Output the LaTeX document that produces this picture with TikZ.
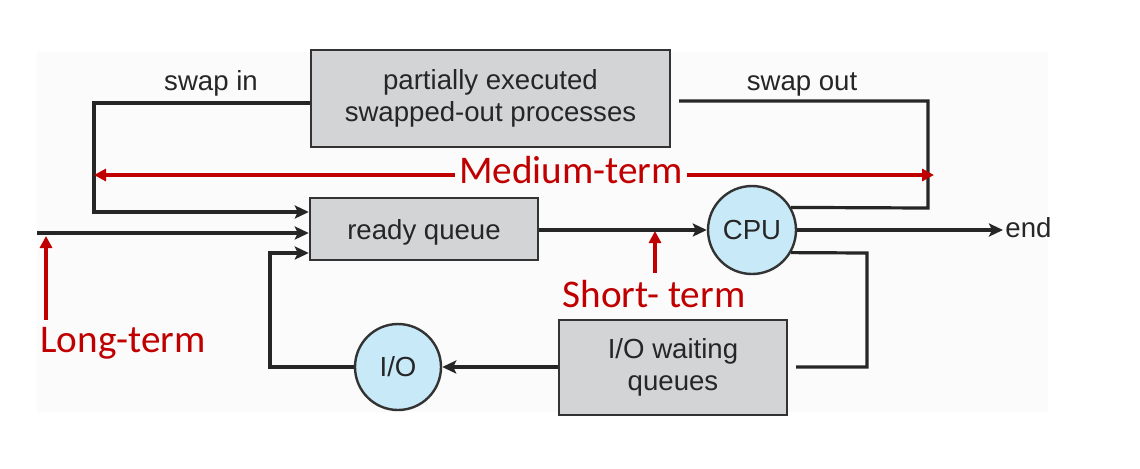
\documentclass[tikz,border=0pt]{standalone}
\usepackage{fontspec}
\setmainfont{Liberation Sans}
\newfontfamily\calibri{Carlito}
\definecolor{boxfill}{RGB}{210, 212, 214}
\definecolor{unitfill}{RGB}{200, 233, 247}
\definecolor{schedred}{RGB}{192, 0, 0}
\definecolor{paper}{RGB}{251, 251, 251}
\usetikzlibrary{arrows.meta}
\tikzset{
    lbl/.style={text=black!85, font=\fontsize{13.8}{16}\selectfont},
    queuebox/.style={lbl, draw=black!80, fill=boxfill, line width=1.2pt,
        align=center},
    unit/.style={lbl, draw=black!80, circle, fill=unitfill, line width=1.2pt,
        inner sep=0pt},
    flow/.style={draw=black!85, line width=1.6pt},
    into/.style={flow, -{Stealth[length=7pt, width=6.5pt, inset=1.5pt]}},
    term/.style={text=schedred, inner xsep=2pt,
        font=\calibri\fontsize{19.6}{23}\selectfont},
    termarrow/.style={draw=schedred, line width=2pt,
        -{Triangle[length=6pt, width=6pt]}},
}

\begin{document}
\begin{tikzpicture}[x=0.5pt, y=-0.5pt]
    \useasboundingbox (0, 0) rectangle (1140, 468);
    \fill[paper] (37, 52) rectangle (1048, 412);
    \node[queuebox, minimum width=179.5pt, minimum height=48.5pt] (swapped)
        at (490.5, 98.5) {partially executed\\swapped-out processes};
    \node[queuebox, minimum width=114pt, minimum height=31pt, text depth=0pt]
        (ready) at (424, 229) {ready queue};
    \node[queuebox, minimum width=114pt, minimum height=47.5pt] (iowait)
        at (673, 367.5) {I/O waiting\\queues};
    \node[unit, minimum size=44pt] (cpu) at (752, 230) {CPU};
    \node[unit, minimum size=43pt] (io) at (398, 367) {I/O};
    \node[lbl, anchor=base] (swapin) at (211, 90) {swap in};
    \node[lbl, anchor=base] (swapout) at (802, 90) {swap out};
    \node[lbl, anchor=base west, inner sep=1pt] (end) at (1003, 237) {end};
    \node[term, anchor=base] (medium) at (571, 183) {Medium-term};
    \node[term, anchor=base] (short) at (654, 307) {Short- term};
    \node[term, anchor=base west, inner xsep=0pt] (long) at (40, 352) {Long-term};

    \coordinate (swl) at (94, 103);
    \coordinate (swb) at (94, 212);
    \coordinate (sor) at (928, 101);
    \coordinate (sob) at (928, 208);
    \coordinate (soe) at (679, 101);
    \coordinate (iotop) at (867, 253);
    \coordinate (iobot) at (867, 367);
    \coordinate (ioend) at (796, 367);
    \coordinate (back) at (270, 367);
    \coordinate (backtop) at (270, 253);
    \coordinate (newjob) at (37, 233);
    \coordinate (mleft) at (94, 175);
    \coordinate (mright) at (934, 175);
    \coordinate (ltip) at (46, 236);
    \coordinate (stip) at (655, 231);

    \draw[into] (swapped.west |- swl) -- (swl) -- (swb) -- (ready.west |- swb);
    \draw[into] (newjob) -- (ready.west |- newjob);
    \draw[into] (io.west) -- (back) -- (backtop) -- (ready.west |- backtop);
    \draw[into] (ready.east |- cpu) -- (cpu.west);
    \draw[into] (cpu.east) -- (end.west |- cpu);
    \draw[into] (iowait.west |- io) -- (io.east);
    \draw[flow] (cpu.30) -- (sob) -- (sor) -- (soe);
    \draw[flow] (cpu.-30) -- (iotop) -- (iobot) -- (ioend);

    \draw[termarrow] (medium.west |- mleft) -- (mleft);
    \draw[termarrow] (medium.east |- mright) -- (mright);
    \draw[termarrow] (long.north -| ltip) -- (ltip);
    \draw[termarrow] (short.north -| stip) -- (stip);
\end{tikzpicture}
\end{document}
